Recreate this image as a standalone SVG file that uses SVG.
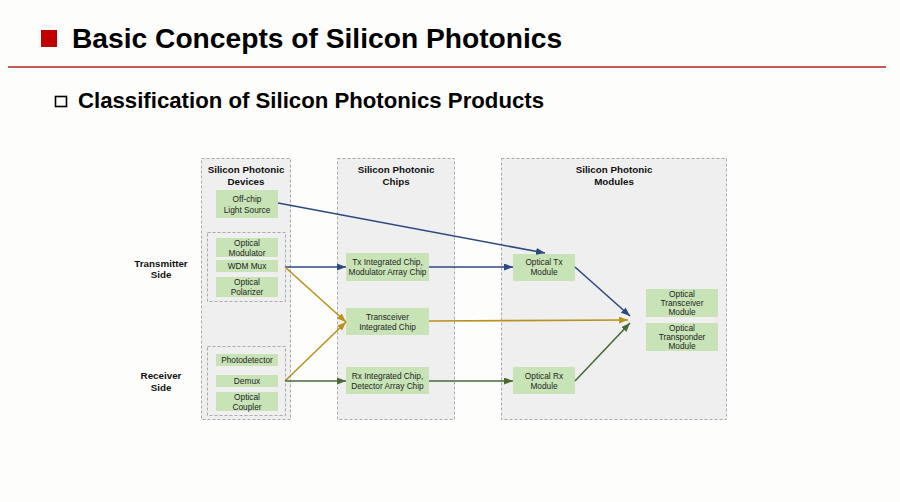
<svg xmlns="http://www.w3.org/2000/svg" width="900" height="502" viewBox="0 0 900 502">
<defs>
<style>
.col{fill:#efefef;stroke:#a9a9a9;stroke-width:1;stroke-dasharray:3 2}
.grp{fill:none;stroke:#a9a9a9;stroke-width:1;stroke-dasharray:3 2}
.node{fill:#c8e3b5}
.t{font-family:"Liberation Sans",Arial,sans-serif;font-size:8.3px;fill:#1e1e1e;text-anchor:middle}
.h{font-family:"Liberation Sans",Arial,sans-serif;font-size:9.8px;font-weight:bold;fill:#111;text-anchor:middle}
.blue{stroke:#2d4a80;stroke-width:1.6;fill:none}
.gold{stroke:#b8921f;stroke-width:1.6;fill:none}
.green{stroke:#4a6a34;stroke-width:1.6;fill:none}
</style>
<marker id="ab" markerUnits="userSpaceOnUse" markerWidth="9" markerHeight="7" refX="9" refY="3.5" orient="auto"><path d="M0,0 L9,3.5 L0,7 Z" fill="#2d4a80"/></marker>
<marker id="ag" markerUnits="userSpaceOnUse" markerWidth="9" markerHeight="7" refX="9" refY="3.5" orient="auto"><path d="M0,0 L9,3.5 L0,7 Z" fill="#b8921f"/></marker>
<marker id="an" markerUnits="userSpaceOnUse" markerWidth="9" markerHeight="7" refX="9" refY="3.5" orient="auto"><path d="M0,0 L9,3.5 L0,7 Z" fill="#4a6a34"/></marker>
</defs>
<rect x="0" y="0" width="900" height="502" fill="#fdfdfb"/>

<g id="header">
<rect x="41" y="30" width="16" height="17" fill="#c00000"/>
<text x="72" y="48" font-family="'Liberation Sans',Arial,sans-serif" font-size="28.2" font-weight="bold" fill="#000">Basic Concepts of Silicon Photonics</text>
<line x1="8" y1="67" x2="886" y2="67" stroke="#b22222" stroke-width="1.5"/>
<rect x="55.5" y="96.5" width="11" height="10" fill="none" stroke="#000" stroke-width="1.6"/>
<text x="78" y="108" font-family="'Liberation Sans',Arial,sans-serif" font-size="22.2" font-weight="bold" fill="#000">Classification of Silicon Photonics Products</text>
</g>

<g id="col-devices">
<rect class="col" x="201.5" y="158.5" width="89" height="261"/>
<text class="h" x="246" y="172.5">Silicon Photonic</text>
<text class="h" x="246" y="184.5">Devices</text>
</g>
<g id="col-chips">
<rect class="col" x="337.5" y="158.5" width="117" height="261"/>
<text class="h" x="396" y="172.5">Silicon Photonic</text>
<text class="h" x="396" y="184.5">Chips</text>
</g>
<g id="col-modules">
<rect class="col" x="501.5" y="158.5" width="225" height="261"/>
<text class="h" x="614" y="172.5">Silicon Photonic</text>
<text class="h" x="614" y="184.5">Modules</text>
</g>

<g id="label-tx">
<text class="h" x="161" y="266.5">Transmitter</text>
<text class="h" x="161" y="277.5">Side</text>
</g>
<g id="label-rx">
<text class="h" x="161" y="378.5">Receiver</text>
<text class="h" x="161" y="390.5">Side</text>
</g>

<g id="offchip">
<rect class="node" x="216" y="190" width="62" height="28"/>
<text class="t" x="247" y="202">Off-chip</text>
<text class="t" x="247" y="213">Light Source</text>
</g>

<g id="tx-group">
<rect class="grp" x="207.5" y="232.5" width="78" height="69"/>
</g>
<g id="modulator">
<rect class="node" x="216" y="238" width="62" height="19"/>
<text class="t" x="247" y="246">Optical</text>
<text class="t" x="247" y="256">Modulator</text>
</g>
<g id="wdm-mux">
<rect class="node" x="216" y="260" width="62" height="12"/>
<text class="t" x="247" y="269">WDM Mux</text>
</g>
<g id="polarizer">
<rect class="node" x="216" y="277" width="62" height="20"/>
<text class="t" x="247" y="285">Optical</text>
<text class="t" x="247" y="295">Polarizer</text>
</g>

<g id="rx-group">
<rect class="grp" x="207.5" y="346.5" width="78" height="69"/>
</g>
<g id="photodetector">
<rect class="node" x="216" y="354" width="62" height="12"/>
<text class="t" x="247" y="363">Photodetector</text>
</g>
<g id="demux">
<rect class="node" x="216" y="375" width="62" height="12"/>
<text class="t" x="247" y="384">Demux</text>
</g>
<g id="coupler">
<rect class="node" x="216" y="392" width="62" height="19"/>
<text class="t" x="247" y="400">Optical</text>
<text class="t" x="247" y="410">Coupler</text>
</g>

<g id="tx-chip">
<rect class="node" x="346" y="253" width="83" height="28"/>
<text class="t" x="387.5" y="265">Tx Integrated Chip,</text>
<text class="t" x="387.5" y="275">Modulator Array Chip</text>
</g>
<g id="trx-chip">
<rect class="node" x="346" y="308" width="83" height="27"/>
<text class="t" x="387.5" y="320">Transceiver</text>
<text class="t" x="387.5" y="330">Integrated Chip</text>
</g>
<g id="rx-chip">
<rect class="node" x="346" y="367" width="83" height="27"/>
<text class="t" x="387.5" y="379">Rx Integrated Chip,</text>
<text class="t" x="387.5" y="389">Detector Array Chip</text>
</g>

<g id="tx-module">
<rect class="node" x="513" y="254" width="62" height="27"/>
<text class="t" x="544" y="265">Optical Tx</text>
<text class="t" x="544" y="275">Module</text>
</g>
<g id="rx-module">
<rect class="node" x="513" y="367" width="62" height="27"/>
<text class="t" x="544" y="379">Optical Rx</text>
<text class="t" x="544" y="389">Module</text>
</g>
<g id="trx-module">
<rect class="node" x="646" y="289" width="72" height="28"/>
<text class="t" x="682" y="297">Optical</text>
<text class="t" x="682" y="306">Transceiver</text>
<text class="t" x="682" y="315">Module</text>
</g>
<g id="transponder-module">
<rect class="node" x="646" y="323" width="72" height="28"/>
<text class="t" x="682" y="331">Optical</text>
<text class="t" x="682" y="340">Transponder</text>
<text class="t" x="682" y="349">Module</text>
</g>

<g id="connectors">
<path class="blue" d="M278,203 L545,253" marker-end="url(#ab)"/>
<path class="blue" d="M285,267 L346,267" marker-end="url(#ab)"/>
<path class="blue" d="M429,267 L513,267" marker-end="url(#ab)"/>
<path class="gold" d="M285,267 L346,322" marker-end="url(#ag)"/>
<path class="gold" d="M285,381 L346,322" marker-end="url(#ag)"/>
<path class="green" d="M285,381 L346,381" marker-end="url(#an)"/>
<path class="green" d="M429,381 L513,381" marker-end="url(#an)"/>
<path class="gold" d="M429,321 L628,320" marker-end="url(#ag)"/>
<path class="blue" d="M575,267 L630,316" marker-end="url(#ab)"/>
<path class="green" d="M575,381 L630,323" marker-end="url(#an)"/>
</g>
</svg>
